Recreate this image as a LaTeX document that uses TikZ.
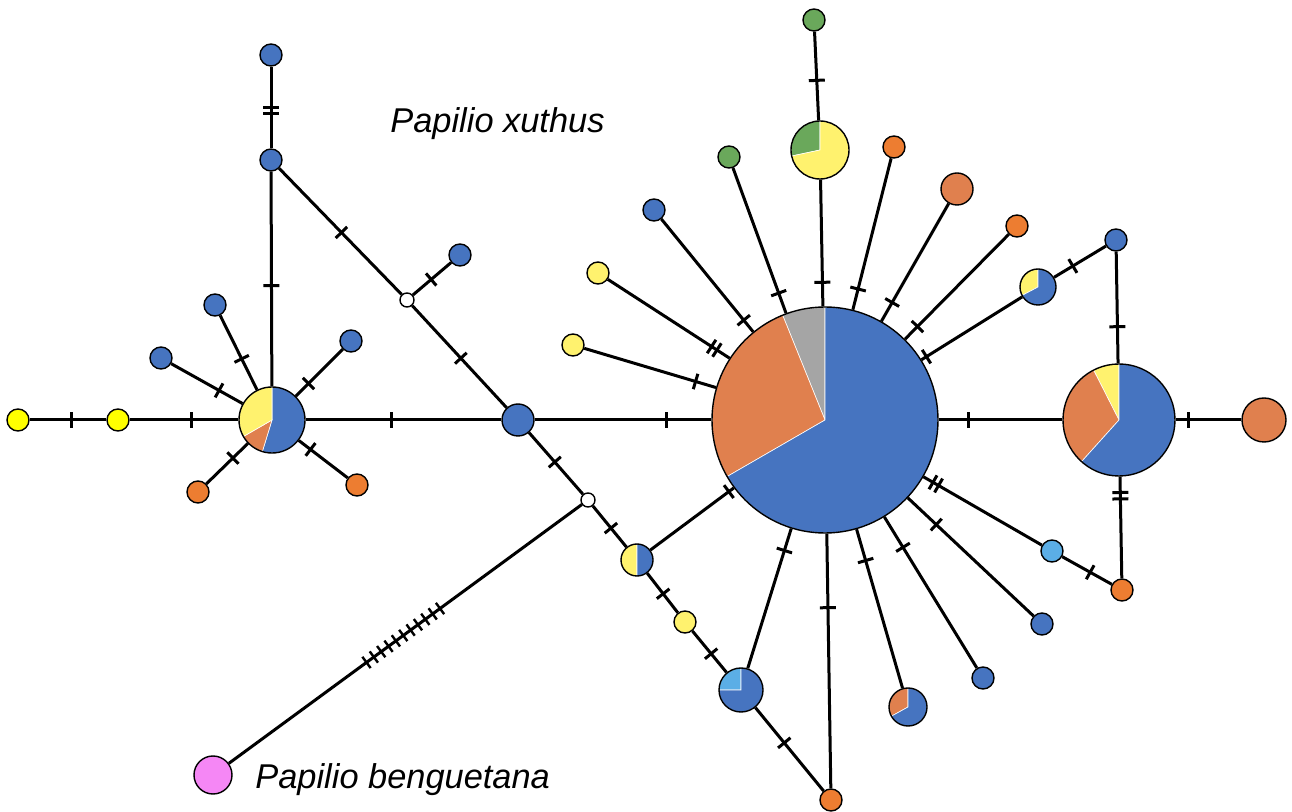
\documentclass[tikz,border=0pt]{standalone}
\usepackage{fontspec}
\setmainfont{Liberation Sans}
\usetikzlibrary{decorations.markings,backgrounds}
\definecolor{hapblue}{HTML}{4674C0}
\definecolor{haporange}{HTML}{ED7D31}
\definecolor{hapocre}{HTML}{E0804E}
\definecolor{hapyellow}{HTML}{FFF26E}
\definecolor{hapgold}{HTML}{FFFF00}
\definecolor{hapgreen}{HTML}{6AA85B}
\definecolor{hapgray}{HTML}{A5A5A5}
\definecolor{hapsky}{HTML}{5BAEE6}
\definecolor{happink}{HTML}{F587F5}
\newcommand{\pieslice}[5]{\fill[#5, draw=white, line width=0.3pt] (#1.center) -- ++(#3:#2) arc[start angle=#3, end angle=#4, radius=#2] -- cycle;}
\tikzset{
  hap/.style={circle, draw, line width=0.7pt, inner sep=0pt, minimum size=#1pt},
  conn/.style={line width=1.5pt},
  mut/.style={postaction={decorate, decoration={markings, mark=at position #1 with {\draw[line width=1.5pt] (0pt,-4pt) -- (0pt,4pt);}}}},
  mutt/.style={postaction={decorate, decoration={markings, mark=at position #1 with {\draw[line width=1.5pt] (-1.6pt,-4pt) -- (-1.6pt,4pt) (1.6pt,-4pt) -- (1.6pt,4pt);}}}},
  species/.style={font=\itshape\fontsize{17.2}{20}\selectfont, anchor=base west, inner sep=0pt}
}
\begin{document}
\begin{tikzpicture}[x=0.5pt, y=-0.5pt]
\useasboundingbox (0,0) rectangle (1292,812);

% left group
\node[hap=11, fill=hapgold] (ya) at (18,420) {};
\node[hap=11, fill=hapgold] (yb) at (118,420) {};
\node[hap=33] (hubL) at (272,420) {};
\node[hap=11, fill=hapblue] (bt) at (271,55) {};
\node[hap=11, fill=hapblue] (bm) at (271,160) {};
\node[hap=11, fill=hapblue] (bl1) at (215,305) {};
\node[hap=11, fill=hapblue] (bl2) at (161,358) {};
\node[hap=11, fill=hapblue] (bl3) at (351,341) {};
\node[hap=11, fill=haporange] (ol1) at (198,492) {};
\node[hap=11, fill=haporange] (ol2) at (357,485) {};
\node[hap=7, fill=white] (wa) at (407,300) {};
\node[hap=11, fill=hapblue] (bw) at (460,255) {};
\node[hap=16, fill=hapblue] (hubC) at (518,420) {};
\node[hap=7, fill=white] (wb) at (588,500) {};
\node[hap=19, fill=happink] (beng) at (213,775) {};

% lower chain
\node[hap=16] (pyb) at (637,560) {};
\node[hap=11, fill=hapyellow] (ys) at (685,622) {};
\node[hap=22] (plb) at (741,690) {};
\node[hap=11, fill=haporange] (ob) at (831,800) {};

% main haplotype and its spokes
\node[hap=113] (big) at (825,420) {};
\node[hap=29] (pgy) at (820,150) {};
\node[hap=11, fill=hapgreen] (gt) at (814,20) {};
\node[hap=11, fill=hapgreen] (g2) at (729,157) {};
\node[hap=11, fill=haporange] (o1) at (894,147) {};
\node[hap=16, fill=hapocre] (o2) at (957,189) {};
\node[hap=11, fill=haporange] (o3) at (1017,226) {};
\node[hap=18] (pyb2) at (1038,287) {};
\node[hap=11, fill=hapblue] (b1) at (1116,240) {};
\node[hap=56] (pr) at (1119,420) {};
\node[hap=22, fill=hapocre] (o4) at (1264,420) {};
\node[hap=11, fill=haporange] (o5) at (1122,590) {};
\node[hap=11, fill=hapsky] (lb) at (1052,551) {};
\node[hap=11, fill=hapblue] (b2) at (1042,624) {};
\node[hap=11, fill=hapblue] (b3) at (983,678) {};
\node[hap=19] (pob) at (908,707) {};
\node[hap=11, fill=hapblue] (b4) at (654,210) {};
\node[hap=11, fill=hapyellow] (y1) at (598,273) {};
\node[hap=11, fill=hapyellow] (y2) at (573,345) {};

\begin{pgfonlayer}{background}
\pieslice{hubL}{16.5pt}{90}{-107}{hapblue}
\pieslice{hubL}{16.5pt}{210}{253}{hapocre}
\pieslice{hubL}{16.5pt}{90}{210}{hapyellow}
\pieslice{pyb}{8pt}{90}{270}{hapyellow}
\pieslice{pyb}{8pt}{-90}{90}{hapblue}
\pieslice{plb}{11pt}{90}{180}{hapsky}
\pieslice{plb}{11pt}{180}{450}{hapblue}
\pieslice{big}{56.5pt}{90}{112}{hapgray}
\pieslice{big}{56.5pt}{112}{210}{hapocre}
\pieslice{big}{56.5pt}{210}{450}{hapblue}
\pieslice{pgy}{14.5pt}{90}{192}{hapgreen}
\pieslice{pgy}{14.5pt}{192}{450}{hapyellow}
\pieslice{pyb2}{9pt}{90}{208}{hapyellow}
\pieslice{pyb2}{9pt}{208}{450}{hapblue}
\pieslice{pr}{28pt}{90}{117}{hapyellow}
\pieslice{pr}{28pt}{117}{228}{hapocre}
\pieslice{pr}{28pt}{228}{450}{hapblue}
\pieslice{pob}{9.5pt}{90}{209}{hapocre}
\pieslice{pob}{9.5pt}{209}{450}{hapblue}
\end{pgfonlayer}

\draw[conn, mut=21pt] (ya) -- (yb);
\draw[conn, mut=31pt] (yb) -- (hubL);
\draw[conn, mutt=22pt] (bt) -- (bm);
\draw[conn, mut=57pt] (bm) -- (hubL);
\draw[conn, mut=24.2pt] (bl1) -- (hubL);
\draw[conn, mut=27.4pt] (bl2) -- (hubL);
\draw[conn, mut=24.2pt] (bl3) -- (hubL);
\draw[conn, mut=18.5pt] (ol1) -- (hubL);
\draw[conn, mut=23.4pt] (ol2) -- (hubL);
\draw[conn, mut=43pt] (hubL) -- (hubC);
\draw[conn, mut=44.7pt] (bm) -- (wa);
\draw[conn, mut=12pt] (wa) -- (bw);
\draw[conn, mut=35.8pt] (wa) -- (hubC);
\draw[conn, mut=66pt] (hubC) -- (big);
\draw[conn, mut=19.6pt] (hubC) -- (wb);
\draw[conn, postaction={decorate, decoration={markings, mark=between positions 87.9pt and 134pt step 4.56pt with {\draw[line width=1.2pt] (0pt,-3.5pt) -- (0pt,3.5pt);}}}] (wb) -- (beng);
\draw[conn, mut=14.3pt] (wb) -- (pyb);
\draw[conn, mut=48.9pt] (pyb) -- (big);
\draw[conn, mut=13pt] (pyb) -- (ys);
\draw[conn, mut=14.7pt] (ys) -- (plb);
\draw[conn, mut=22.8pt] (plb) -- (ob);
\draw[conn, mut=61.7pt] (plb) -- (big);
\draw[conn, mut=37pt] (big) -- (ob);
\draw[conn, mut=12pt] (big) -- (pgy);
\draw[conn, mut=20pt] (pgy) -- (gt);
\draw[conn, mut=66.6pt] (g2) -- (big);
\draw[conn, mut=67.4pt] (o1) -- (big);
\draw[conn, mut=57pt] (o2) -- (big);
\draw[conn, mut=64.9pt] (o3) -- (big);
\draw[conn, mut=56.4pt] (pyb2) -- (big);
\draw[conn, mut=11pt] (pyb2) -- (b1);
\draw[conn, mut=37.5pt] (b1) -- (pr);
\draw[conn, mut=15pt] (big) -- (pr);
\draw[conn, mut=6.5pt] (pr) -- (o4);
\draw[conn, mutt=9.5pt] (pr) -- (o5);
\draw[conn, mut=16pt] (lb) -- (o5);
\draw[conn, mutt=7.1pt] (big) -- (lb);
\draw[conn, mut=19.5pt] (big) -- (b2);
\draw[conn, mut=17.8pt] (big) -- (b3);
\draw[conn, mut=16.3pt] (big) -- (pob);
\draw[conn, mut=65.2pt] (b4) -- (big);
\draw[conn, mutt=63.4pt] (y1) -- (big);
\draw[conn, mut=58.1pt] (y2) -- (big);

\node[species] (xuthus) at (390,133) {Papilio xuthus};
\node[species] (benguetana) at (255,789) {Papilio benguetana};
\end{tikzpicture}
\end{document}
